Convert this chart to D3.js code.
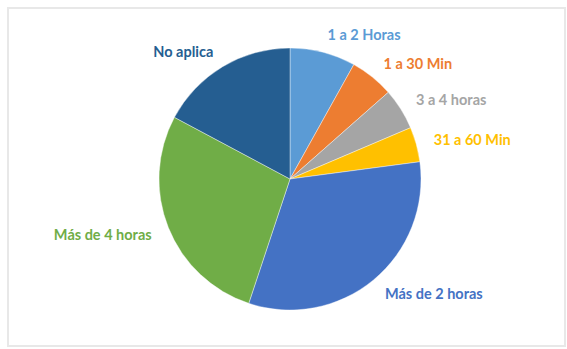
<!DOCTYPE html>
<html>
<head>
<meta charset="utf-8">
<script src="https://cdn.jsdelivr.net/npm/d3@7"></script>
<style>
  html, body { margin: 0; padding: 0; background: #ffffff; }
  svg { display: block; }
</style>
</head>
<body>
<svg id="chart" width="567" height="349"></svg>
<script>
// Time spent categories and their share (%)
const categories = ["1 a 2 Horas", "1 a 30 Min", "3 a 4 horas", "31 a 60 Min", "Más de 2 horas", "Más de 4 horas", "No aplica"];
const values = [8.1, 5.4, 5.1, 4.3, 32.2, 27.7, 17.2];
const colors = ["#5B9BD5", "#ED7D31", "#A5A5A5", "#FFC000", "#4472C4", "#70AD47", "#255E91"];

const width = 567, height = 349;
const cx = 290, cy = 179, radius = 131, labelRadius = 149;

const svg = d3.select("#chart");

// chart area frame
svg.append("rect")
  .attr("x", 8).attr("y", 8)
  .attr("width", 557).attr("height", 338)
  .attr("fill", "#ffffff")
  .attr("stroke", "#e8e8e8")
  .attr("stroke-width", 2);

const data = categories.map((c, i) => ({ name: c, value: values[i], color: colors[i] }));

const pie = d3.pie().value(d => d.value).sort(null);
const arcs = pie(data);

const arc = d3.arc().innerRadius(0).outerRadius(radius);
const labelArc = d3.arc().innerRadius(labelRadius).outerRadius(labelRadius);

const g = svg.append("g").attr("transform", `translate(${cx},${cy})`);

g.selectAll("path.slice")
  .data(arcs)
  .enter().append("path")
  .attr("class", "slice")
  .attr("d", arc)
  .attr("fill", d => d.data.color)
  .attr("stroke", "#ffffff")
  .attr("stroke-width", 0.4);

g.selectAll("text.label")
  .data(arcs)
  .enter().append("text")
  .attr("class", "label")
  .attr("transform", d => {
    const [x, y] = labelArc.centroid(d);
    return `translate(${x},${y})`;
  })
  .attr("text-anchor", d => ((d.startAngle + d.endAngle) / 2 < Math.PI ? "start" : "end"))
  .attr("dominant-baseline", "central")
  .attr("font-family", "Lato, 'Open Sans', sans-serif")
  .attr("font-weight", "bold")
  .attr("font-size", "14.5px")
  .attr("fill", d => d.data.color)
  .text(d => d.data.name);
</script>
</body>
</html>
